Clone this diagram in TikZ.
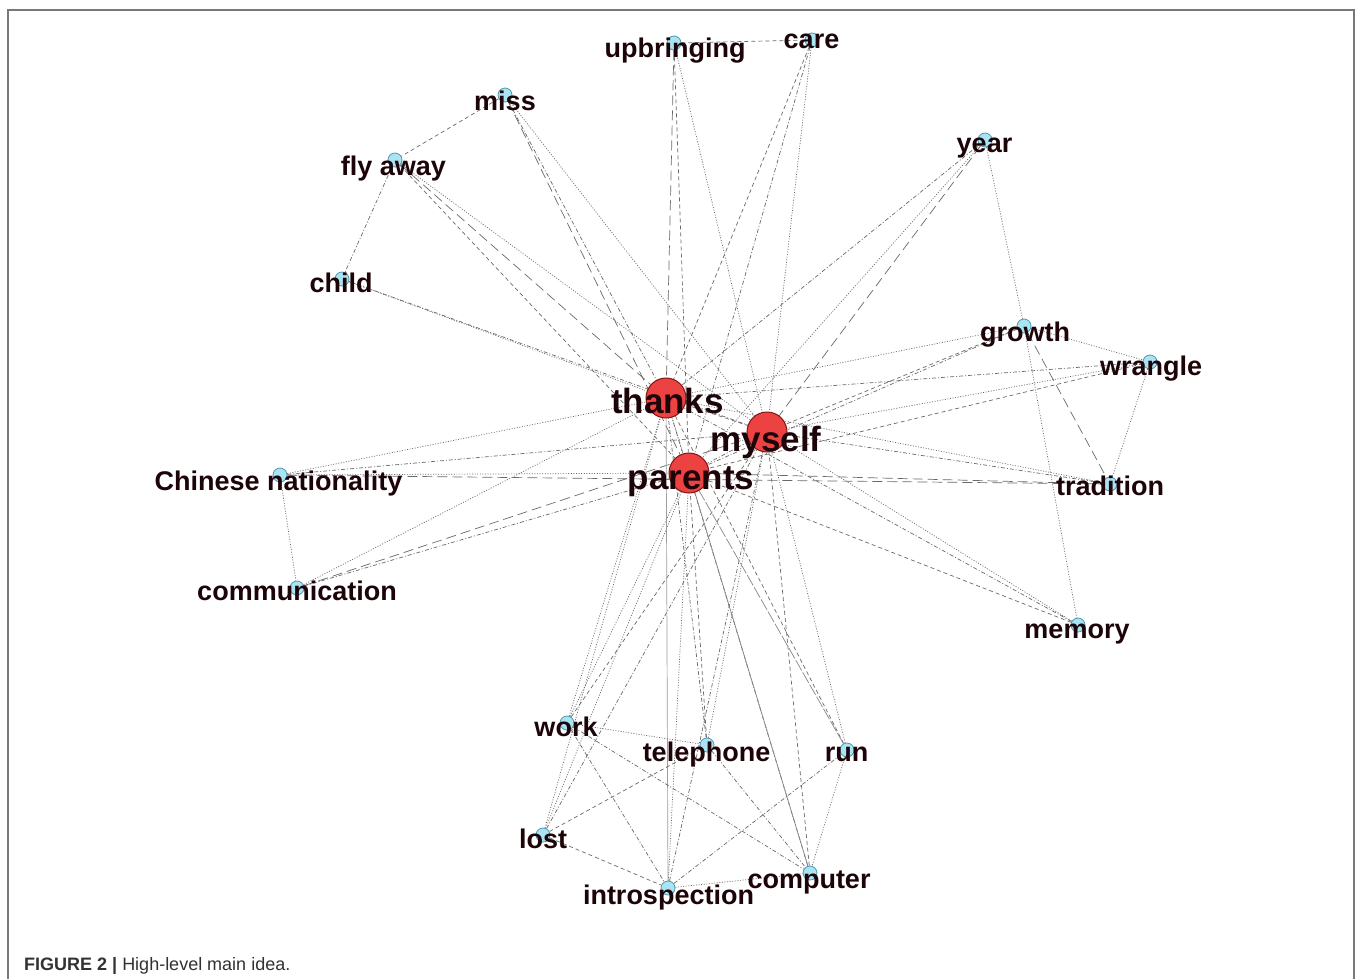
\documentclass[tikz,border=0pt]{standalone}
\usepackage{fontspec}
\setmainfont{Liberation Sans}
\pgfdeclarelayer{paper}
\pgfdeclarelayer{edges}
\pgfsetlayers{paper,edges,main}
\definecolor{hubfill}{RGB}{236,66,66}
\definecolor{hubline}{RGB}{130,20,20}
\definecolor{leaffill}{RGB}{170,228,242}
\definecolor{leafline}{RGB}{80,150,175}
\definecolor{wordcol}{RGB}{28,4,8}
\definecolor{edgecol}{RGB}{105,105,105}
\definecolor{capcol}{RGB}{50,50,50}
\definecolor{framecol}{RGB}{120,120,120}
\begin{document}
\begin{tikzpicture}[x=1pt,y=-1pt,
  hub/.style={circle,draw=hubline,fill=hubfill,line width=1pt,minimum size=40pt,inner sep=0pt},
  leaf/.style={circle,draw=leafline,fill=leaffill,line width=0.8pt,minimum size=14pt,inner sep=0pt},
  word/.style={anchor=base,text=wordcol,inner sep=0pt,font=\fontsize{27}{27}\selectfont\bfseries},
  bigword/.style={word,font=\fontsize{35}{35}\selectfont\bfseries},
  link/.style={draw=edgecol,line width=0.7pt},
  edot/.style={link,dash pattern=on 1pt off 1.6pt},
  edash/.style={link,dash pattern=on 4pt off 3pt},
  edashdot/.style={link,dash pattern=on 4pt off 2pt on 1pt off 2pt},
  elong/.style={link,dash pattern=on 10pt off 5pt},
  esolid/.style={link,draw=edgecol!80}]
\useasboundingbox (0,0) rectangle (1357,978);
\begin{pgfonlayer}{paper}
\fill[white] (0,0) rectangle (1357,978);
\end{pgfonlayer}

% figure frame
\draw[framecol,line width=1.6pt] (8,980) -- (8,10) -- (1354,10) -- (1354,980);

% hubs
\node[hub] (thanks) at (666,398) {};
\node[hub] (myself) at (767,432) {};
\node[hub] (parents) at (689,473) {};

% outer terms
\node[leaf] (upbringing) at (674,43) {};
\node[leaf] (care) at (812,40) {};
\node[leaf] (miss) at (505,95) {};
\node[leaf] (flyaway) at (395,160) {};
\node[leaf] (child) at (342,279) {};
\node[leaf] (year) at (985,140) {};
\node[leaf] (growth) at (1024,326) {};
\node[leaf] (wrangle) at (1150,362) {};
\node[leaf] (tradition) at (1110,484) {};
\node[leaf] (chinese) at (280,475) {};
\node[leaf] (communication) at (297,588) {};
\node[leaf] (memory) at (1078,625) {};
\node[leaf] (work) at (567,723) {};
\node[leaf] (telephone) at (707,745) {};
\node[leaf] (run) at (847,750) {};
\node[leaf] (lost) at (543,835) {};
\node[leaf] (computer) at (810,873) {};
\node[leaf] (introspection) at (668,888) {};

\begin{pgfonlayer}{edges}
% links between the three hubs
\draw[edash] (thanks) -- (myself);
\draw[edot] (thanks) -- (parents);
\draw[edashdot] (myself) -- (parents);
% outer terms to hubs
\draw[elong] (upbringing) -- (thanks);
\draw[edot] (upbringing) -- (myself);
\draw[edash] (upbringing) -- (parents);
\draw[edash] (care) -- (thanks);
\draw[edot] (care) -- (myself);
\draw[edashdot] (care) -- (parents);
\draw[edashdot] (miss) -- (thanks);
\draw[edot] (miss) -- (myself);
\draw[elong] (miss) -- (parents);
\draw[elong] (flyaway) -- (thanks);
\draw[edot] (flyaway) -- (myself);
\draw[edash] (flyaway) -- (parents);
\draw[edot] (child) -- (thanks);
\draw[edashdot] (child) -- (myself);
\draw[edashdot] (year) -- (thanks);
\draw[elong] (year) -- (myself);
\draw[edot] (year) -- (parents);
\draw[edot] (growth) -- (thanks);
\draw[edash] (growth) -- (myself);
\draw[edashdot] (growth) -- (parents);
\draw[edashdot] (wrangle) -- (thanks);
\draw[edot] (wrangle) -- (myself);
\draw[edash] (wrangle) -- (parents);
\draw[edot] (tradition) -- (thanks);
\draw[edashdot] (tradition) -- (myself);
\draw[elong] (tradition) -- (parents);
\draw[edashdot] (memory) -- (thanks);
\draw[edot] (memory) -- (myself);
\draw[edash] (memory) -- (parents);
\draw[edot] (chinese) -- (thanks);
\draw[edashdot] (chinese) -- (myself);
\draw[edot] (chinese) -- (parents);
\draw[edot] (communication) -- (thanks);
\draw[elong] (communication) -- (myself);
\draw[edashdot] (communication) -- (parents);
\draw[edot] (work) -- (thanks);
\draw[edash] (work) -- (myself);
\draw[edot] (work) -- (parents);
\draw[edashdot] (telephone) -- (thanks);
\draw[edot] (telephone) -- (myself);
\draw[edash] (telephone) -- (parents);
\draw[edash] (run) -- (thanks);
\draw[edot] (run) -- (myself);
\draw[esolid,dash pattern=on 12pt off 2pt] (run) -- (parents);
\draw[edot] (lost) -- (thanks);
\draw[edashdot] (lost) -- (myself);
\draw[edot] (lost) -- (parents);
\draw[edashdot] (computer) -- (thanks);
\draw[edash] (computer) -- (myself);
\draw[esolid] (computer) -- (parents);
\draw[link,draw=edgecol!65] (introspection) -- (thanks);
\draw[edashdot] (introspection) -- (myself);
\draw[edot] (introspection) -- (parents);
% links between outer terms
\draw[edash] (upbringing) -- (care);
\draw[edash] (miss) -- (flyaway);
\draw[edashdot] (flyaway) -- (child);
\draw[edot] (chinese) -- (communication);
\draw[elong] (chinese) -- (tradition);
\draw[edot] (year) -- (growth);
\draw[edot] (growth) -- (wrangle);
\draw[elong] (growth) -- (tradition);
\draw[edot] (growth) -- (memory);
\draw[edot] (wrangle) -- (tradition);
\draw[edot] (work) -- (telephone);
\draw[edashdot] (work) -- (computer);
\draw[edashdot] (work) -- (introspection);
\draw[edash] (lost) -- (telephone);
\draw[edash] (lost) -- (introspection);
\draw[edashdot] (telephone) -- (computer);
\draw[edashdot] (run) -- (introspection);
\draw[edot] (run) -- (computer);
\draw[edot] (introspection) -- (computer);
\end{pgfonlayer}

% term labels
\node[word] (t-upbringing) at (675,57) {upbringing};
\node[word] (t-care) at (811.5,48) {care};
\node[word] (t-miss) at (505,110) {miss};
\node[word] (t-flyaway) at (393.5,175) {fly away};
\node[word] (t-child) at (341,292) {child};
\node[word] (t-year) at (984.5,152) {year};
\node[word] (t-growth) at (1025,341) {growth};
\node[word] (t-wrangle) at (1151,375) {wrangle};
\node[word] (t-tradition) at (1110,495) {tradition};
\node[word] (t-chinese) at (278.5,490) {Chinese nationality};
\node[word] (t-communication) at (297,600) {communication};
\node[word] (t-memory) at (1077,638) {memory};
\node[word] (t-work) at (566,736) {work};
\node[word] (t-telephone) at (706.5,761) {telephone};
\node[word] (t-run) at (846.5,761) {run};
\node[word] (t-lost) at (543,848) {lost};
\node[word] (t-computer) at (809,888) {computer};
\node[word] (t-introspection) at (668.5,904) {introspection};
\node[bigword] (t-thanks) at (667.5,413) {thanks};
\node[bigword] (t-myself) at (766,451) {myself};
\node[bigword] (t-parents) at (691,489) {parents};

% caption
\node[anchor=base west,text=capcol,inner sep=0pt,font=\fontsize{18}{18}\selectfont] (caption) at (24,970) {\textbf{FIGURE 2 |} High-level main idea.};
\end{tikzpicture}
\end{document}
